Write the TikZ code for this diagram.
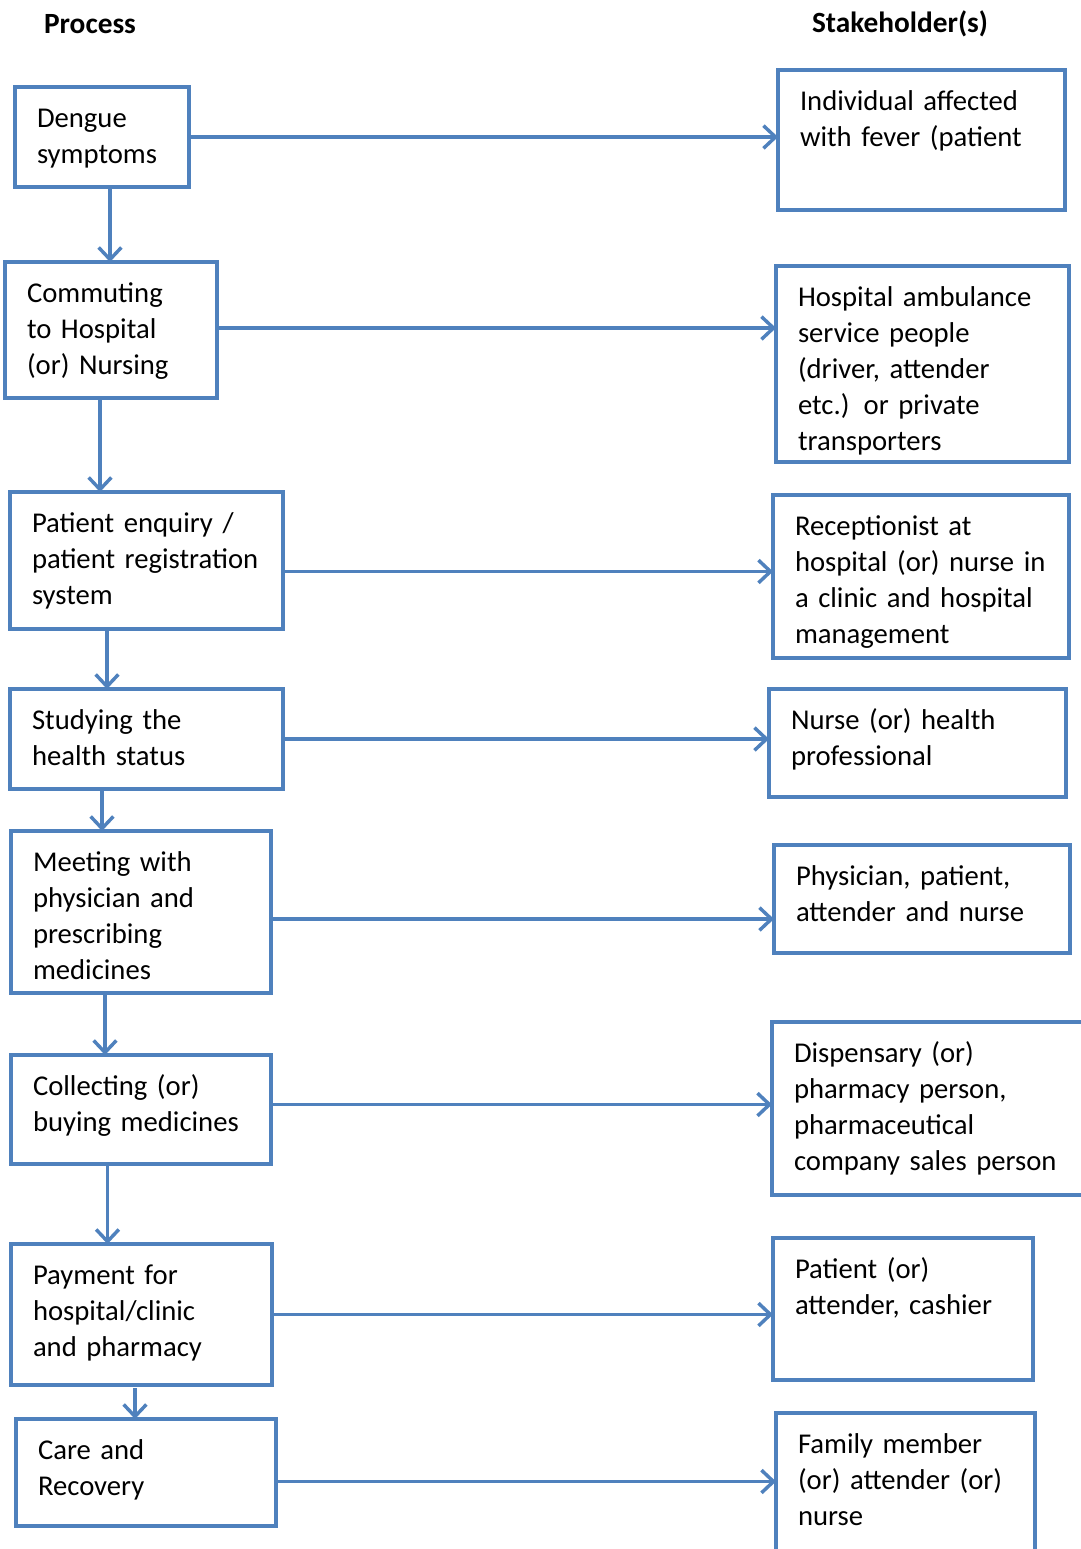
\documentclass[tikz,border=0pt]{standalone}
\usepackage{fontspec}
\setmainfont{Carlito}
\usetikzlibrary{arrows.meta,calc}
\definecolor{boxblue}{HTML}{4F81BD}

\begin{document}
\begin{tikzpicture}[x=0.75pt, y=-0.75pt,
    box/.style={draw=boxblue, line width=2.6pt, anchor=north west, align=left, inner xsep=16.5pt, inner ysep=0pt, outer sep=0pt, text height=30.5pt, font=\fontsize{21.5}{27}\selectfont},
    head/.style={font=\fontsize{22}{27}\selectfont\bfseries},
    arr/.style={-{Straight Barb[length=9pt, width=17pt]}, draw=boxblue, line width=2.6pt}
]
\useasboundingbox (0,0) rectangle (1081,1549);
\clip (0,0) rectangle (1081,1549);

% headings
\node[head] (hproc) at (90,24) {Process};
\node[head] (hstake) at (900,24) {Stakeholder(s)};

% process column
\node[box, text width=97.5pt, text depth=44.5pt] (p1) at (15,87) {Dengue\\symptoms};
\node[box, text width=126pt, text depth=71.5pt] (p2) at (5,262) {Commuting\\to Hospital\\(or) Nursing};
\node[box, text width=171.75pt, text depth=72.25pt] (p3) at (10,492) {Patient enquiry /\\patient registration\\system};
\node[box, text width=171.75pt, text depth=44.5pt] (p4) at (10,689) {Studying the\\health status};
\node[box, text width=162pt, text depth=91pt] (p5) at (11,831) {Meeting with\\physician and\\prescribing\\medicines};
\node[box, text width=162pt, text depth=51.25pt] (p6) at (11,1055) {Collecting (or)\\buying medicines};
\node[box, text width=162.75pt, text depth=75.25pt] (p7) at (11,1244) {Payment for\\hospital/clinic\\and pharmacy};
\node[box, text width=162pt, text depth=49.75pt] (p8) at (16,1419) {Care and\\Recovery};

% stakeholder column
\node[box, text width=182.25pt, text depth=74.5pt] (s1) at (778,70) {Individual affected\\with fever (patient};
\node[box, text width=186.75pt, text depth=116.5pt] (s2) at (776,266) {Hospital ambulance\\service people\\(driver, attender\\etc.) or private\\transporters};
\node[box, text width=189pt, text depth=91.75pt] (s3) at (773,495) {Receptionist at\\hospital (or) nurse in\\a clinic and hospital\\management};
\node[box, text width=189.75pt, text depth=50.5pt] (s4) at (769,689) {Nurse (or) health\\professional};
\node[box, text width=189pt, text depth=50.5pt] (s5) at (774,845) {Physician, patient,\\attender and nurse};
\node[box, text width=207pt, text depth=99.25pt] (s6) at (772,1022) {Dispensary (or)\\pharmacy person,\\pharmaceutical\\company sales person};
\node[box, text width=162pt, text depth=76pt] (s7) at (773,1238) {Patient (or)\\attender, cashier};
\node[box, text width=161.25pt, text depth=82pt] (s8) at (776,1413) {Family member\\(or) attender (or)\\nurse};

% process flow
\draw[arr] (p1.south -| 110,0) -- (p2.north -| 110,0);
\draw[arr] (p2.south -| 100,0) -- (p3.north -| 100,0);
\draw[arr] (p3.south -| 107,0) -- (p4.north -| 107,0);
\draw[arr] (p4.south -| 102,0) -- (p5.north -| 102,0);
\draw[arr] (p5.south -| 105,0) -- (p6.north -| 105,0);
\draw[arr] (p6.south -| 107.5,0) -- (p7.north -| 107.5,0);
\draw[arr] ($(p7.south -| 135,0)+(0,3)$) -- (p8.north -| 135,0);

% stakeholders
\draw[arr] (p1.east) -- (p1.east -| s1.west);
\draw[arr] ($(p2.east)+(0,-2)$) coordinate (h2) -- (h2 -| s2.west);
\draw[arr] ($(p3.east)+(0,11)$) coordinate (h3) -- (h3 -| s3.west);
\draw[arr] (p4.east) -- (p4.east -| s4.west);
\draw[arr] ($(p5.east)+(0,7)$) coordinate (h5) -- (h5 -| s5.west);
\draw[arr] ($(p6.east)+(0,-5)$) coordinate (h6) -- (h6 -| s6.west);
\draw[arr] (p7.east) -- (p7.east -| s7.west);
\draw[arr] ($(p8.east)+(0,9)$) coordinate (h8) -- (h8 -| s8.west);
\end{tikzpicture}
\end{document}
